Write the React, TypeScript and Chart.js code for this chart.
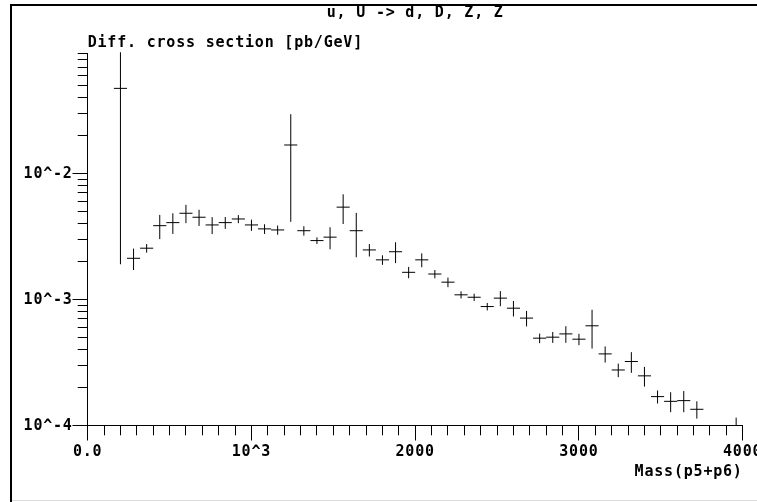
import React, { useEffect, useRef } from 'react';
import { Chart, registerables } from 'chart.js';

Chart.register(...registerables);

const TITLE = 'u, U -> d, D, Z, Z';
const Y_TITLE = 'Diff. cross section [pb/GeV]';
const X_TITLE = 'Mass(p5+p6)';

const BIN_WIDTH = 80;
const BIN_CENTERS = [
  40, 120, 200, 280, 360, 440, 520, 600, 680, 760,
  840, 920, 1000, 1080, 1160, 1240, 1320, 1400, 1480, 1560,
  1640, 1720, 1800, 1880, 1960, 2040, 2120, 2200, 2280, 2360,
  2440, 2520, 2600, 2680, 2760, 2840, 2920, 3000, 3080, 3160,
  3240, 3320, 3400, 3480, 3560, 3640, 3720, 3800, 3880, 3960,
];
const VALUES: (number | null)[] = [
  null, null, 0.0474, 0.00212, 0.00255, 0.00385, 0.00407, 0.00483, 0.00449, 0.0039,
  0.00407, 0.00435, 0.0039, 0.00363, 0.00356, 0.01683, 0.00351, 0.00293, 0.00312, 0.0054,
  0.00351, 0.00247, 0.00206, 0.00239, 0.00164, 0.00206, 0.00159, 0.00137, 0.001087, 0.00104,
  0.000877, 0.001023, 0.000851, 0.00071, 0.000492, 0.000501, 0.000532, 0.000483, 0.000617, 0.000369,
  0.000275, 0.000321, 0.000247, 0.000169, 0.000155, 0.000157, 0.000134, null, null, 0.00006,
];
const ERRORS: (number | null)[] = [
  null, null, 0.0455, 0.00041, 0.0002, 0.00084, 0.00076, 0.0008, 0.00066, 0.0006,
  0.00044, 0.00032, 0.0004, 0.00032, 0.0003, 0.0127, 0.0003, 0.00018, 0.00062, 0.00143,
  0.00135, 0.00028, 0.00018, 0.00045, 0.00017, 0.00026, 0.00012, 0.00012, 0.00007, 0.00007,
  0.00006, 0.00014, 0.00012, 0.0001, 0.000043, 0.00005, 0.00008, 0.00005, 0.00021, 0.000054,
  0.000034, 0.00006, 0.000044, 0.00002, 0.000028, 0.00003, 0.000021, null, null, 0.000055,
];

const X_MIN = 0;
const X_MAX = 4000;
const X_MINOR_STEP = 100;
const X_MAJOR = [0, 1000, 2000, 3000, 4000];
const X_TICK_LABELS = ['0.0', '10^3', '2000', '3000', '4000'];

const Y_MIN = 1e-4;
const Y_MAX = 0.09;
const Y_MAJOR = [1e-4, 1e-3, 1e-2];
const Y_TICK_LABELS = ['10^-4', '10^-3', '10^-2'];

const LETTER_SPACING = '0.8px';
const FONT = { family: "'DejaVu Sans Mono', 'Liberation Mono', monospace", size: 15, weight: 'bold' as const, lineHeight: 1.2 };

const same = (a: number, b: number) => Math.abs(a - b) <= Math.abs(b) * 1e-6 + 1e-12;

const alignPx = (p: number) => Math.round(p - 0.5) + 0.5;

const spacingPlugin = {
  id: 'spacing',
  beforeUpdate(chart: any) { chart.ctx.letterSpacing = LETTER_SPACING; },
  beforeLayout(chart: any) { chart.ctx.letterSpacing = LETTER_SPACING; },
  beforeDraw(chart: any) { chart.ctx.letterSpacing = LETTER_SPACING; },
};

const errorBarPlugin = {
  id: 'errorBars',
  afterDatasetsDraw(chart: any) {
    const { ctx, chartArea } = chart;
    const x = chart.scales.x;
    const y = chart.scales.y;
    ctx.save();
    ctx.beginPath();
    ctx.rect(chartArea.left, chartArea.top - 1, chartArea.right - chartArea.left, chartArea.bottom - chartArea.top + 1);
    ctx.clip();
    ctx.strokeStyle = '#000';
    ctx.lineWidth = 1;
    BIN_CENTERS.forEach((c, i) => {
      const v = VALUES[i];
      const e = ERRORS[i];
      if (v == null || e == null) return;
      const px = x.getPixelForValue(c);
      const py = y.getPixelForValue(v);
      const x0 = x.getPixelForValue(c - BIN_WIDTH / 2);
      const x1 = x.getPixelForValue(c + BIN_WIDTH / 2);
      const lo = v - e;
      const yLo = lo > 0 ? y.getPixelForValue(lo) : chartArea.bottom;
      const yHi = y.getPixelForValue(v + e);
      ctx.beginPath();
      ctx.moveTo(x0, py);
      ctx.lineTo(x1, py);
      ctx.moveTo(px, yHi);
      ctx.lineTo(px, yLo);
      ctx.stroke();
    });
    ctx.restore();
  },
};

const axesExtrasPlugin = {
  id: 'axesExtras',
  afterDraw(chart: any) {
    const { ctx, chartArea } = chart;
    const x = chart.scales.x;
    const y = chart.scales.y;
    ctx.save();
    ctx.strokeStyle = '#000';
    ctx.lineWidth = 1;
    const bottom = alignPx(chartArea.bottom);
    const left = alignPx(chartArea.left);
    ctx.beginPath();
    X_MAJOR.forEach((v) => {
      const px = alignPx(x.getPixelForValue(v));
      ctx.moveTo(px, bottom);
      ctx.lineTo(px, bottom + 15);
    });
    Y_MAJOR.forEach((v) => {
      const py = alignPx(y.getPixelForValue(v));
      ctx.moveTo(left - 15, py);
      ctx.lineTo(left, py);
    });
    ctx.stroke();
    // outer frame: top and left edges
    ctx.lineWidth = 2;
    ctx.beginPath();
    ctx.moveTo(2000, 5);
    ctx.lineTo(11, 5);
    ctx.lineTo(11, 2000);
    ctx.stroke();
    // faint bottom edge
    ctx.lineWidth = 1;
    ctx.strokeStyle = '#dcdcdc';
    ctx.beginPath();
    ctx.moveTo(12, 500.5);
    ctx.lineTo(2000, 500.5);
    ctx.stroke();
    ctx.restore();
  },
};

export default function App() {
  const ref = useRef<HTMLCanvasElement | null>(null);

  useEffect(() => {
    if (!ref.current) return;
    const points = BIN_CENTERS.map((c, i) => ({ x: c, y: VALUES[i] })).filter((p) => p.y != null);
    const chart = new Chart(ref.current, {
      type: 'scatter',
      data: {
        datasets: [
          {
            data: points as any,
            pointRadius: 0,
            showLine: false,
            borderColor: '#000',
          },
        ],
      },
      plugins: [spacingPlugin, errorBarPlugin, axesExtrasPlugin],
      options: {
        animation: false,
        responsive: false,
        devicePixelRatio: 1,
        layout: { padding: { left: 0, right: 14.3, top: 0, bottom: 0 } },
        plugins: {
          legend: { display: false },
          tooltip: { enabled: false },
          title: {
            display: true,
            text: TITLE,
            fullSize: false,
            align: 'center',
            color: '#000',
            font: FONT,
            padding: { top: 4, bottom: 0 },
          },
          subtitle: {
            display: true,
            text: Y_TITLE,
            fullSize: false,
            align: 'start',
            color: '#000',
            font: FONT,
            padding: { top: 11.7, bottom: 1.6 },
          },
        },
        scales: {
          x: {
            type: 'linear',
            min: X_MIN,
            max: X_MAX,
            afterBuildTicks: (s: any) => {
              const ticks = [];
              for (let v = X_MIN; v <= X_MAX; v += X_MINOR_STEP) ticks.push({ value: v });
              s.ticks = ticks;
            },
            afterFit: (s: any) => { s.height = 76.7; s.paddingRight = 0; s.paddingLeft = 0; },
            ticks: {
              autoSkip: false,
              maxRotation: 0,
              padding: 8.3,
              color: '#000',
              font: FONT,
              callback: (v: any) => {
                const i = X_MAJOR.findIndex((m) => same(Number(v), m));
                return i >= 0 ? X_TICK_LABELS[i] : '';
              },
            },
            grid: { display: true, drawOnChartArea: false, drawTicks: true, tickLength: 10, color: '#000', lineWidth: 1 },
            border: { display: true, color: '#000', width: 1 },
            title: {
              display: true,
              text: X_TITLE,
              align: 'end',
              color: '#000',
              font: FONT,
              padding: { top: 0, bottom: 20.5 },
            },
          },
          y: {
            type: 'logarithmic',
            min: Y_MIN,
            max: Y_MAX,
            afterBuildTicks: (s: any) => {
              const ticks = [];
              for (let e = -4; e <= -1; e++) {
                for (let m = 1; m <= 9; m++) {
                  const v = m * Math.pow(10, e);
                  if (v >= Y_MIN * 0.999999 && v <= Y_MAX * 1.000001) ticks.push({ value: v });
                }
              }
              s.ticks = ticks;
            },
            afterFit: (s: any) => { s.width = 87.7; },
            ticks: {
              autoSkip: false,
              padding: 5,
              labelOffset: 1,
              color: '#000',
              font: FONT,
              callback: (v: any) => {
                const i = Y_MAJOR.findIndex((m) => same(Number(v), m));
                return i >= 0 ? Y_TICK_LABELS[i] : '';
              },
            },
            grid: { display: true, drawOnChartArea: false, drawTicks: true, tickLength: 10, color: '#000', lineWidth: 1 },
            border: { display: true, color: '#000', width: 1 },
          },
        },
      } as any,
    });
    return () => chart.destroy();
  }, []);

  return (
    <div style={{ position: 'fixed', left: 0, top: 0, width: 757, height: 502, overflow: 'hidden', background: '#fff' }}>
      <canvas ref={ref} width={757} height={502} style={{ display: 'block', width: 757, height: 502 }} />
    </div>
  );
}
